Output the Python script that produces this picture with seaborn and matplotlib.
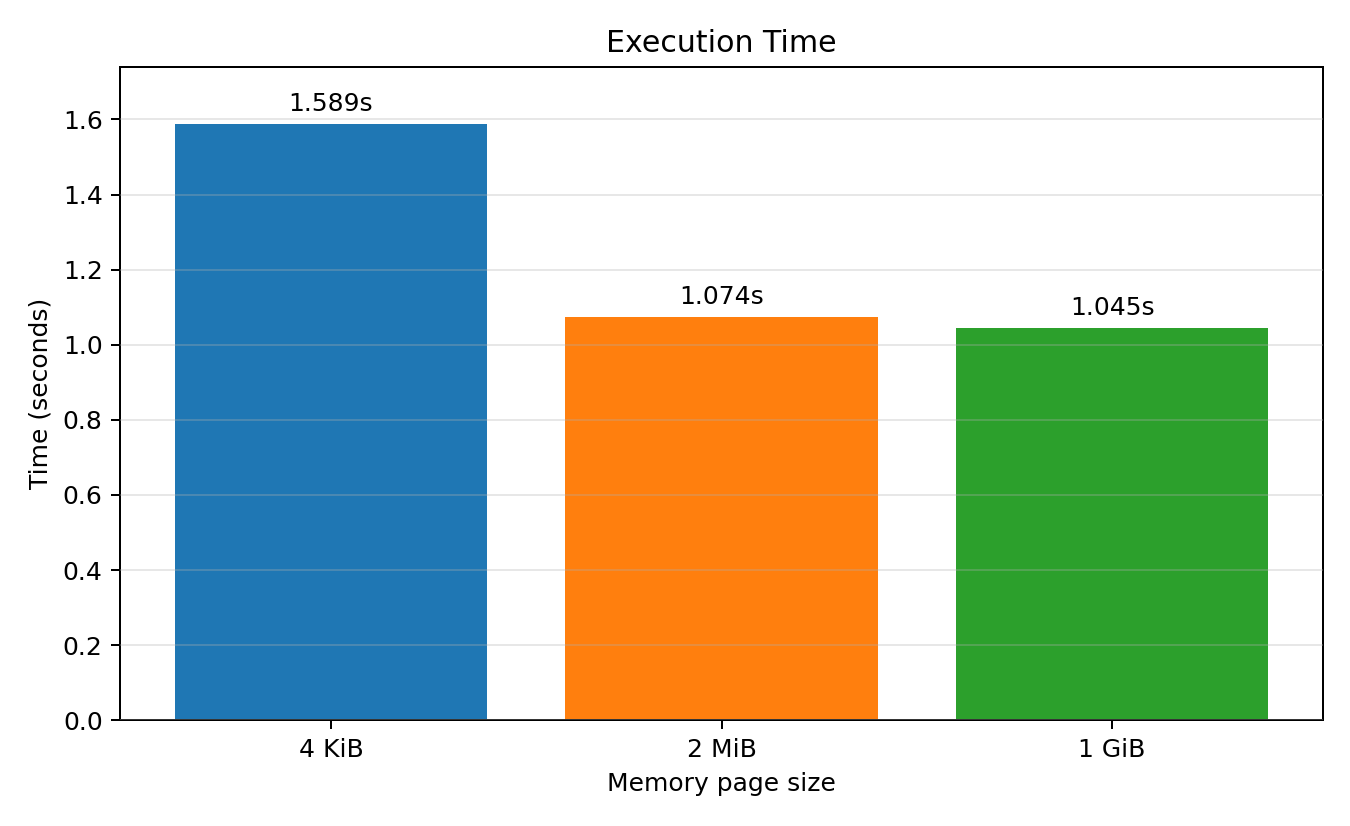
import pandas as pd
import seaborn as sns
import matplotlib
matplotlib.use("Agg")
import matplotlib.pyplot as plt

# --- data ---
page_sizes = ["4 KiB", "2 MiB", "1 GiB"]
exec_times = [1.589, 1.074, 1.045]
bar_colors = ["#1f77b4", "#ff7f0e", "#2ca02c"]

df = pd.DataFrame({"page_size": page_sizes, "time": exec_times})

fig, ax = plt.subplots(figsize=(7.5, 4.589), dpi=180)

sns.barplot(
    data=df,
    x="page_size",
    y="time",
    hue="page_size",
    palette=bar_colors,
    saturation=1,
    width=0.8,
    legend=False,
    ax=ax,
)

# etiquetas de valor acima das barras
for container in ax.containers:
    ax.bar_label(container, fmt="{:.3f}s", padding=3, fontsize=10)

ax.set_title("Execution Time", fontsize=12)
ax.set_xlabel("Memory page size", fontsize=10)
ax.set_ylabel("Time (seconds)", fontsize=10)
ax.set_xlim(-0.54, 2.54)
ax.set_ylim(0, 1.74)
ax.grid(axis="y", alpha=0.3)
ax.set_axisbelow(False)
for spine in ax.spines.values():
    spine.set_color("black")

fig.subplots_adjust(left=0.089, right=0.98, top=0.919, bottom=0.128)
plt.savefig("out.png", dpi=180)
plt.close()
